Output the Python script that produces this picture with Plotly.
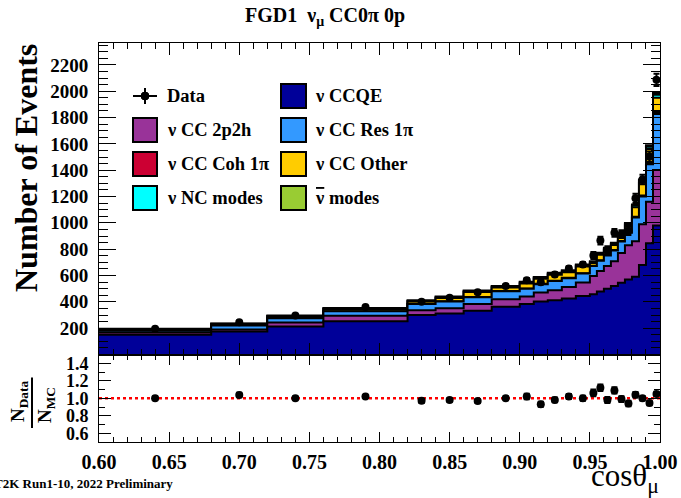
import numpy as np
import plotly.graph_objects as go

# ---------------- data ----------------
bin_edges = [0.60, 0.68, 0.72, 0.76, 0.82, 0.84, 0.86, 0.88, 0.90, 0.91, 0.92, 0.93, 0.94,
             0.95, 0.955, 0.96, 0.965, 0.97, 0.975, 0.98, 0.985, 0.99, 0.995, 1.00]

ccqe    = [150, 175, 212, 252, 300, 312, 332, 362, 383, 402, 413, 425, 445,
           458, 478, 500, 520, 545, 570, 590, 680, 845, 979]
cc2p2h  = [18, 15, 32, 42, 37, 40, 51, 58, 57, 68, 75, 88, 101,
           138, 156, 172, 189, 225, 260, 270, 310, 315, 422]
ccres   = [12, 30, 32, 34, 46, 50, 52, 60, 60, 64, 70, 67, 69,
           76, 78, 80, 81, 88, 95, 180, 210, 285, 425]
cccoh   = [1, 1, 1, 1, 2, 2, 2, 2, 2, 3, 3, 3, 3,
           3, 3, 4, 4, 4, 5, 6, 7, 9, 15]
ccother = [8, 9, 12, 16, 17, 26, 38, 27, 38, 39, 45, 42, 51,
           20, 42, 38, 37, 44, 51, 73, 98, 106, 110]
ncmodes = [3, 3, 4, 4, 5, 5, 6, 6, 7, 7, 7, 8, 8,
           8, 9, 9, 10, 10, 10, 12, 15, 18, 22]
antinu  = [3, 3, 4, 4, 5, 5, 6, 6, 6, 6, 7, 7, 7,
           6, 6, 7, 7, 7, 8, 9, 10, 12, 14]

data_counts = [195, 245, 297, 360, 400, 431, 472, 521, 564, 548, 608, 653, 684,
               752, 865, 794, 924, 914, 939, 1186, 1330, 1503, 2086]
data_err    = [4, 6, 6, 6, 10, 10, 11, 11, 17, 17, 17, 18, 19,
               27, 29, 28, 30, 30, 31, 35, 36, 39, 46]

x_tick_vals = [0.60, 0.65, 0.70, 0.75, 0.80, 0.85, 0.90, 0.95, 1.00]
y_tick_vals = [200, 400, 600, 800, 1000, 1200, 1400, 1600, 1800, 2000, 2200]
ratio_tick_vals = [0.6, 0.8, 1.0, 1.2, 1.4]
ratio_ref = 1.0

comp_names  = ["ν CCQE", "ν CC 2p2h", "ν CC Res 1π", "ν CC Coh 1π",
               "ν CC Other", "ν NC modes",
               "<span style='text-decoration:overline'>ν</span> modes"]
comp_values = [ccqe, cc2p2h, ccres, cccoh, ccother, ncmodes, antinu]
comp_colors = ["#000099", "#993399", "#3399ff", "#cc0033",
               "#ffcc00", "#00ffff", "#99cc33"]

FONT = "Liberation Serif"

# ---------------- geometry helpers (layout only) ----------------
W, H = 681, 498
L, R, T, B = 99, 21, 43, 56
PW, PH = W - L - R, H - T - B


def px(xp):
    return (xp - L) / PW


def py(yp):
    return (H - B - yp) / PH


split = py(354.5)

edges = np.array(bin_edges)
centers = 0.5 * (edges[:-1] + edges[1:])
stack = np.cumsum(np.array(comp_values, dtype=float), axis=0)
total = stack[-1]
data = np.array(data_counts, dtype=float)
err = np.array(data_err, dtype=float)

fig = go.Figure()

# stacked histogram (top cumulative first, lower ones drawn over it)
for k in reversed(range(len(comp_values))):
    yk = np.append(stack[k], stack[k][-1])
    fig.add_trace(go.Scatter(
        x=edges, y=yk, mode="lines",
        line=dict(shape="hv", color="black", width=2),
        fill="tozeroy", fillcolor=comp_colors[k],
        xaxis="x", yaxis="y", showlegend=False, hoverinfo="skip"))

# data points
fig.add_trace(go.Scatter(
    x=centers, y=data, mode="markers",
    marker=dict(color="black", size=8),
    error_y=dict(type="data", array=err, color="black", thickness=2, width=3),
    xaxis="x", yaxis="y", showlegend=False))

# ratio
fig.add_trace(go.Scatter(
    x=centers, y=data / total, mode="markers",
    marker=dict(color="black", size=8),
    error_y=dict(type="data", array=err / total, color="black", thickness=2, width=3),
    xaxis="x2", yaxis="y2", showlegend=False))

axis_common = dict(showline=True, linecolor="black", linewidth=1, mirror="allticks",
                   ticks="inside", tickcolor="black", showgrid=False, zeroline=False,
                   automargin=False)
tick_font = dict(family=FONT, size=20, color="black", weight="bold")

fig.update_layout(
    width=W, height=H,
    margin=dict(l=L, r=R, t=T, b=B, autoexpand=False),
    plot_bgcolor="white", paper_bgcolor="white",
    font=dict(family=FONT, color="black"),
    xaxis=dict(domain=[0, 1], anchor="y", range=[0.6, 1.0], tickvals=x_tick_vals,
               showticklabels=False, ticklen=12,
               minor=dict(tickmode="linear", tick0=0.6, dtick=0.01, ticklen=6,
                          ticks="inside", tickcolor="black"),
               **axis_common),
    yaxis=dict(domain=[split, 1], anchor="x", range=[0, 2366], tickvals=y_tick_vals,
               ticklen=17, tickfont=dict(family=FONT, size=19, color="black", weight="bold"),
               ticklabelstandoff=6,
               minor=dict(tickmode="linear", tick0=0, dtick=50, ticklen=9,
                          ticks="inside", tickcolor="black"),
               **axis_common),
    xaxis2=dict(domain=[0, 1], anchor="y2", range=[0.6, 1.0], tickvals=x_tick_vals,
                tickformat=".2f", ticklen=10, tickfont=tick_font, ticklabelstandoff=2,
                minor=dict(tickmode="linear", tick0=0.6, dtick=0.01, ticklen=5,
                           ticks="inside", tickcolor="black"),
                **axis_common),
    yaxis2=dict(domain=[0, split], anchor="x2", range=[0.5, 1.5], tickvals=ratio_tick_vals,
                tickformat=".1f", ticklen=12,
                tickfont=dict(family=FONT, size=18, color="black", weight="bold"),
                ticklabelstandoff=6,
                minor=dict(tickmode="linear", tick0=0.5, dtick=0.1, ticklen=6,
                           ticks="inside", tickcolor="black"),
                **axis_common),
)


def note(xp, yp, text, size, xanchor="center", yanchor="middle", angle=0, bold=True):
    return dict(x=px(xp), y=py(yp), xref="paper", yref="paper",
                xanchor=xanchor, yanchor=yanchor, textangle=angle,
                text=("<b>" + text + "</b>") if bold else text, showarrow=False,
                font=dict(family=FONT, size=size, color="black"))


annotations = [
    note(325, 17, "FGD1  ν<sub>μ</sub> CC0π 0p", 20),
    note(26, 168, "Number of Events", 32, angle=-90),
    note(661, 478, "cosθ<sub>μ</sub>", 31, xanchor="right", bold=False),
    note(-8, 483, "T2K Run1-10, 2022 Preliminary", 13, xanchor="left"),
    note(19, 402, "N<sub>Data</sub>", 19, angle=-90),
    note(46, 405, "N<sub>MC</sub>", 19, angle=-90),
]
# fraction bar of the ratio title, drawn as a head-less annotation arrow
annotations.append(dict(x=px(32), y=py(428), xref="paper", yref="paper",
                        ax=0, ay=-52, axref="pixel", ayref="pixel",
                        text="", showarrow=True, arrowhead=0, arrowwidth=2,
                        arrowcolor="black", standoff=0, startstandoff=0))

shapes = [dict(type="line", xref="x2 domain", x0=0, x1=1, yref="y2",
               y0=ratio_ref, y1=ratio_ref, layer="below",
               line=dict(color="red", width=2.5, dash="dot"))]

# legend (drawn manually: 2 columns x 4 rows)
row_y = [96, 130, 164, 198]
col_box = [(133, 157), (281, 306)]
col_text = [165, 313]
legend_slots = [(0, 0, None), (0, 1, 0), (1, 0, 1), (1, 1, 2),
                (2, 0, 3), (2, 1, 4), (3, 0, 5), (3, 1, 6)]
for r_i, c_i, comp in legend_slots:
    yc = row_y[r_i]
    x0, x1 = col_box[c_i]
    if comp is None:
        shapes.append(dict(type="line", xref="paper", yref="paper", layer="above",
                           x0=px(x0), x1=px(x1), y0=py(yc), y1=py(yc),
                           line=dict(color="black", width=2)))
        shapes.append(dict(type="line", xref="paper", yref="paper", layer="above",
                           x0=px(145), x1=px(145), y0=py(yc - 8), y1=py(yc + 8),
                           line=dict(color="black", width=2)))
        shapes.append(dict(type="circle", xref="paper", yref="paper", layer="above",
                           x0=px(141), x1=px(149), y0=py(yc - 4), y1=py(yc + 4),
                           fillcolor="black", line=dict(color="black", width=1)))
        label = "Data"
    else:
        shapes.append(dict(type="rect", xref="paper", yref="paper", layer="above",
                           x0=px(x0), x1=px(x1), y0=py(yc - 12), y1=py(yc + 12),
                           fillcolor=comp_colors[comp], line=dict(color="black", width=2)))
        label = comp_names[comp]
    annotations.append(note(col_text[c_i], yc, label, 18.5, xanchor="left"))

fig.update_layout(annotations=annotations, shapes=shapes)

fig.write_html("out.html", config={"displayModeBar": False},
               post_script="document.body.style.margin='0';")
